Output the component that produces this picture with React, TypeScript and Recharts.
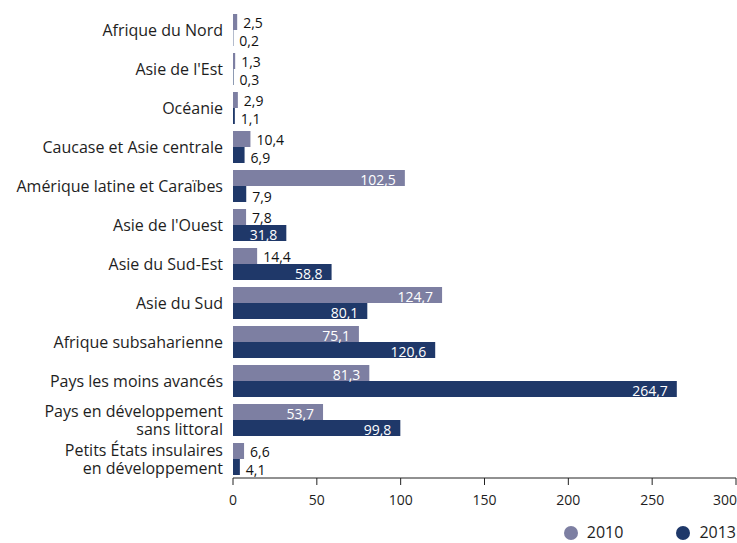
import React from 'react';
import { BarChart, Bar, XAxis, YAxis, Legend, LabelList } from 'recharts';

const categories = [
  "Afrique du Nord",
  "Asie de l'Est",
  "Océanie",
  "Caucase et Asie centrale",
  "Amérique latine et Caraïbes",
  "Asie de l'Ouest",
  "Asie du Sud-Est",
  "Asie du Sud",
  "Afrique subsaharienne",
  "Pays les moins avancés",
  "Pays en développement\nsans littoral",
  "Petits États insulaires\nen développement",
];
const values2010 = [2.5, 1.3, 2.9, 10.4, 102.5, 7.8, 14.4, 124.7, 75.1, 81.3, 53.7, 6.6];
const values2013 = [0.2, 0.3, 1.1, 6.9, 7.9, 31.8, 58.8, 80.1, 120.6, 264.7, 99.8, 4.1];
const xTicks = [0, 50, 100, 150, 200, 250, 300];
const seriesNames = ["2010", "2013"];

const COLORS = ["#7d7fa2", "#1f3869"];
const FONT = "'Open Sans', sans-serif";

const data = categories.map((c, i) => ({
  name: c,
  v2010: values2010[i],
  v2013: values2013[i],
}));

const fmt = (v: number) => String(v).replace('.', ',');

const makeValueLabel = (shift: number) => (props: any) => {
  const { x, y, width, height, value } = props;
  const v = Number(value);
  const inside = v >= 20;
  const cy = Number(y) + Number(height) / 2 + 1 + (inside ? 0 : shift);
  const end = Number(x) + Number(width);
  return (
    <text
      x={inside ? end - 9 : end + 6}
      y={cy}
      textAnchor={inside ? 'end' : 'start'}
      dominantBaseline="central"
      fill={inside ? '#ffffff' : '#111111'}
      fontSize={14}
      fontFamily={FONT}
    >
      {fmt(v)}
    </text>
  );
};

const YTick = (props: any) => {
  const { x, y, payload } = props;
  const lines = String(payload.value).split('\n');
  const lh = 18;
  const start = -((lines.length - 1) * lh) / 2;
  return (
    <text
      x={x}
      y={y}
      textAnchor="end"
      fill="#1e1e1e"
      fontSize={16}
      fontFamily={FONT}
    >
      {lines.map((l, i) => (
        <tspan key={i} x={x} y={y + start + i * lh} dominantBaseline="central">
          {l}
        </tspan>
      ))}
    </text>
  );
};

const XTick = (props: any) => {
  const { x, y, payload } = props;
  const last = payload.value === xTicks[xTicks.length - 1];
  return (
    <text
      x={last ? x + 1 : x}
      y={y}
      dy="0.71em"
      textAnchor={last ? 'end' : 'middle'}
      fill="#1e1e1e"
      fontSize={14}
      fontFamily={FONT}
    >
      {payload.value}
    </text>
  );
};

const LegendContent = () => (
  <div
    style={{
      height: 35,
      width: '100%',
      display: 'flex',
      justifyContent: 'flex-end',
      alignItems: 'flex-end',
      fontFamily: FONT,
      fontSize: 16,
      color: '#1e1e1e',
    }}
  >
    {seriesNames.map((s, i) => (
      <div
        key={s}
        style={{
          display: 'flex',
          alignItems: 'center',
          marginLeft: i === 0 ? 0 : 53,
          marginBottom: 1,
          lineHeight: '19px',
        }}
      >
        <svg width={14} height={14} style={{ marginRight: 9 }}>
          <circle cx={7} cy={7} r={7} fill={COLORS[i]} />
        </svg>
        <span>{s}</span>
      </div>
    ))}
  </div>
);

export default function App() {
  return (
    <div style={{ position: 'absolute', left: 0, top: 0, width: 737, height: 543, background: '#fff' }}>
      <BarChart
        width={737}
        height={543}
        data={data}
        layout="vertical"
        margin={{ top: 10, right: 1, bottom: 0, left: 0 }}
        barGap={0}
      >
        <XAxis
          type="number"
          domain={[0, 300]}
          ticks={xTicks}
          height={30}
          tickSize={7}
          tickMargin={10}
          axisLine={{ stroke: '#222222' }}
          tickLine={{ stroke: '#222222' }}
          tick={<XTick />}
          interval={0}
        />
        <YAxis
          type="category"
          dataKey="name"
          width={233}
          axisLine={false}
          tickLine={false}
          tickSize={0}
          tickMargin={10}
          tick={<YTick />}
          interval={0}
        />
        <Legend verticalAlign="bottom" align="right" height={35} content={<LegendContent />} />
        <Bar dataKey="v2010" name={seriesNames[0]} fill={COLORS[0]} barSize={16} isAnimationActive={false}>
          <LabelList dataKey="v2010" content={makeValueLabel(-1)} />
        </Bar>
        <Bar dataKey="v2013" name={seriesNames[1]} fill={COLORS[1]} barSize={16} isAnimationActive={false}>
          <LabelList dataKey="v2013" content={makeValueLabel(1)} />
        </Bar>
      </BarChart>
    </div>
  );
}
